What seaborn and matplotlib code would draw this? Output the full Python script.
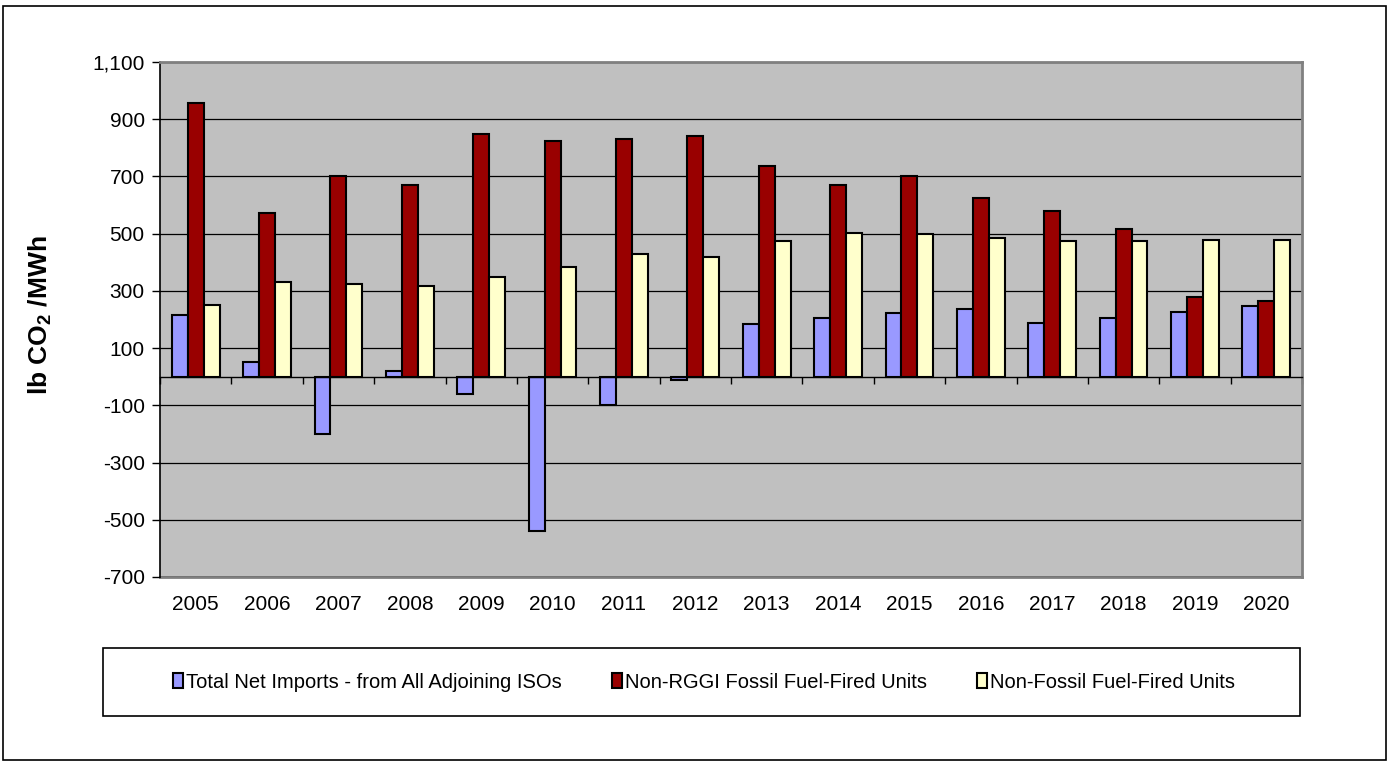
import matplotlib
matplotlib.use('Agg')
import matplotlib.pyplot as plt
import seaborn as sns
import pandas as pd
import numpy as np
from matplotlib.patches import Rectangle
from matplotlib.ticker import FuncFormatter

years = [str(y) for y in range(2005, 2021)]
net_imports = [215, 50, -200, 20, -60, -540, -100, -10, 183, 206, 224, 235, 187, 206, 226, 247]
non_rggi = [956, 571, 700, 670, 849, 825, 832, 840, 736, 670, 700, 623, 580, 516, 280, 266]
non_fossil = [251, 331, 323, 318, 347, 384, 428, 420, 476, 503, 500, 486, 476, 476, 478, 478]
series = ['Total Net Imports - from All Adjoining ISOs',
          'Non-RGGI Fossil Fuel-Fired Units',
          'Non-Fossil Fuel-Fired Units']
colors = ['#9999FF', '#990000', '#FFFFCC']
yticks = list(range(-700, 1101, 200))

plt.rcParams['font.family'] = ['Liberation Sans', 'DejaVu Sans']
plt.rcParams['mathtext.fontset'] = 'custom'
plt.rcParams['mathtext.rm'] = 'Liberation Sans'
plt.rcParams['mathtext.bf'] = 'Liberation Sans:bold'

rows = []
for s, vals in zip(series, [net_imports, non_rggi, non_fossil]):
    for y, v in zip(years, vals):
        rows.append({'year': y, 'value': v, 'series': s})
df = pd.DataFrame(rows)

W, H = 1389, 762
fig = plt.figure(figsize=(W / 100, H / 100), dpi=100)
ax = fig.add_axes([160 / W, 1 - 577 / H, (1302 - 160) / W, (577 - 62) / H])
ax.set_facecolor('#C0C0C0')

sns.barplot(data=df, x='year', y='value', hue='series', hue_order=series,
            order=years, palette=colors, width=0.67, saturation=1,
            edgecolor='black', linewidth=1.5, errorbar=None, ax=ax)

handles, labels = ax.get_legend_handles_labels()
if ax.get_legend() is not None:
    ax.get_legend().remove()

ax.set_ylim(-700, 1100)
ax.set_xlim(-0.5, 15.5)
ax.set_yticks(yticks)
ax.yaxis.set_major_formatter(FuncFormatter(lambda v, p: f'{v:,.0f}'))
ax.tick_params(axis='y', labelsize=15, length=6, width=1, color='black', pad=5)
ax.set_axisbelow(True)
ax.yaxis.grid(True, color='black', linewidth=0.9)
ax.xaxis.grid(False)

# zero axis line with boundary ticks
ax.spines['bottom'].set_position(('data', 0))
ax.spines['bottom'].set_color('black')
ax.spines['bottom'].set_linewidth(1.0)
ax.spines['bottom'].set_zorder(3)
ax.set_xticks(np.arange(-0.5, 16, 1))
ax.set_xticklabels([''] * 17)
ax.tick_params(axis='x', length=5, width=1, direction='out', color='black')
ax.set_xlabel('')

ax.spines['left'].set_color('black')
ax.spines['left'].set_linewidth(1.2)
for sp in ['top', 'right']:
    ax.spines[sp].set_color('#808080')
    ax.spines[sp].set_linewidth(2)

sec = ax.secondary_xaxis(0.0)
sec.set_xticks(range(len(years)))
sec.set_xticklabels(years)
sec.tick_params(length=0, labelsize=15, pad=13)
sec.spines['bottom'].set_color('#808080')
sec.spines['bottom'].set_linewidth(2)

ax.set_ylabel(r'lb CO$_\mathbf{2}$ /MWh', fontsize=19, fontweight='bold')
ax.yaxis.set_label_coords((54 - 160) / (1302 - 160), (577 - 315) / (577 - 62))

# legend box
fig.patches.append(Rectangle((103 / W, 1 - 716 / H), (1300 - 103) / W, (716 - 648) / H,
                             transform=fig.transFigure, fill=False,
                             edgecolor='black', linewidth=1.2))
fig.legend(handles, labels, loc='center', bbox_to_anchor=(704 / W, 1 - 682 / H),
           ncol=3, frameon=False, fontsize=14.5, handlelength=0.5, handleheight=0.7,
           handletextpad=0.15, columnspacing=2.5)

# outer border
fig.patches.append(Rectangle((3 / W, 1 - 760 / H), (1386 - 3) / W, (760 - 6) / H,
                             transform=fig.transFigure, fill=False,
                             edgecolor='black', linewidth=1.2))

fig.savefig('out.png', dpi=100)
